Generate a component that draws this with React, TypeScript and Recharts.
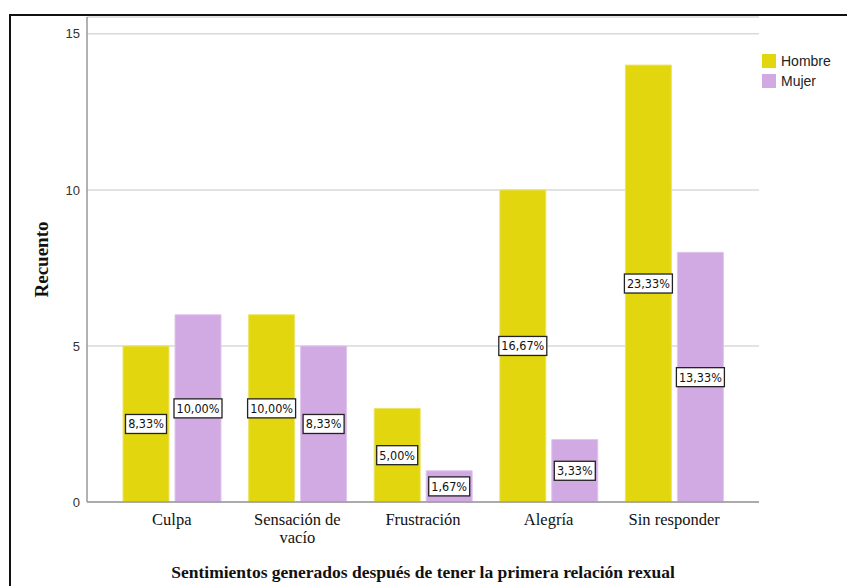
import { BarChart, Bar, XAxis, YAxis, CartesianGrid, Legend, LabelList } from 'recharts';

const categories = ['Culpa', 'Sensación de vacío', 'Frustración', 'Alegría', 'Sin responder'];
const hombre = [5, 6, 3, 10, 14];
const mujer = [6, 5, 1, 2, 8];
const hombrePct = ['8,33%', '10,00%', '5,00%', '16,67%', '23,33%'];
const mujerPct = ['10,00%', '8,33%', '1,67%', '3,33%', '13,33%'];
const yTicks = [0, 5, 10, 15];

const HOMBRE_COLOR = '#e2d60f';
const MUJER_COLOR = '#d1a9e3';
const SERIF = '"Liberation Serif", "Times New Roman", serif';
const SANS = '"Liberation Sans", Arial, sans-serif';

const data = categories.map((c, i) => ({
    name: c,
    hombre: hombre[i],
    mujer: mujer[i],
    hPct: hombrePct[i],
    mPct: mujerPct[i],
}));

// naive word wrap for the long category names
function wrap(text: string, max: number) {
    const words = text.split(' ');
    const lines: string[] = [];
    let cur = '';
    words.forEach((w) => {
        const next = cur ? cur + ' ' + w : w;
        if (next.length > max && cur) {
            lines.push(cur);
            cur = w;
        } else {
            cur = next;
        }
    });
    if (cur) lines.push(cur);
    return lines;
}

const CategoryTick = (props: any) => {
    const { x, y, payload } = props;
    const lines = wrap(payload.value, 14);
    return (
        <text x={x} y={y} textAnchor="middle" fontFamily={SERIF} fontSize={16.5} fill="#111">
            {lines.map((l, i) => (
                <tspan key={i} x={x} dy={i === 0 ? 15 : 18}>{l}</tspan>
            ))}
        </text>
    );
};

const PctLabel = (props: any) => {
    const { x, y, width, height, value } = props;
    const cx = x + width / 2;
    const cy = y + height / 2;
    const w = String(value).length * 7 + 6;
    const h = 19;
    return (
        <g>
            <rect x={cx - w / 2} y={cy - h / 2} width={w} height={h} fill="#fff" stroke="#222" strokeWidth={1.3} />
            <text x={cx} y={cy + 4.5} textAnchor="middle" fontFamily='"DejaVu Sans Condensed", "DejaVu Sans", sans-serif' fontSize={12.5} fill="#111">
                {value}
            </text>
        </g>
    );
};

const LegendBox = () => (
    <div style={{ fontFamily: SANS, fontSize: 14, color: '#222', lineHeight: '20px' }}>
        {[['Hombre', HOMBRE_COLOR], ['Mujer', MUJER_COLOR]].map(([label, color]) => (
            <div key={label} style={{ display: 'flex', alignItems: 'center', height: 20 }}>
                <span style={{ width: 14, height: 14, background: color, display: 'inline-block', marginRight: 5 }} />
                <span>{label}</span>
            </div>
        ))}
    </div>
);

export default function App() {
    return (
        <div style={{ position: 'absolute', left: 0, top: 0, width: 847, height: 586, background: '#fff', overflow: 'hidden' }}>
            <div style={{ position: 'absolute', left: 9, top: 14, width: 840, height: 600, borderLeft: '2px solid #111', borderTop: '2px solid #111' }} />
            <div style={{ position: 'absolute', left: 0, top: 0 }}>
                <BarChart
                    width={847}
                    height={586}
                    data={data}
                    margin={{ top: 17, right: 88, left: 27, bottom: 0 }}
                    barCategoryGap={14}
                    barGap={6}
                >
                    <CartesianGrid vertical={false} stroke="#d9d9d9" strokeWidth={1.5} />
                    <XAxis
                        dataKey="name"
                        height={84}
                        padding={{ left: 22, right: 22 }}
                        stroke="#999"
                        strokeWidth={1.5}
                        tickLine={false}
                        tick={<CategoryTick />}
                        interval={0}
                        label={{
                            value: 'Sentimientos generados después de tener la primera relación rexual',
                            position: 'insideBottom',
                            offset: 8,
                            style: { fontFamily: SERIF, fontSize: 17.5, fontWeight: 'bold', fill: '#111' },
                        }}
                    />
                    <YAxis
                        width={60}
                        domain={[0, 15.54]}
                        ticks={yTicks}
                        stroke="#999"
                        strokeWidth={1.5}
                        tickLine={false}
                        tickSize={0}
                        tickMargin={7}
                        tick={{ fontFamily: SANS, fontSize: 13, fill: '#333' }}
                        label={{
                            content: (p: any) => {
                                const vb = p.viewBox;
                                const cx = vb.x + 14;
                                const cy = vb.y + vb.height / 2;
                                return (
                                    <text x={cx} y={cy} transform={`rotate(-90 ${cx} ${cy})`} textAnchor="middle" dominantBaseline="central" fontFamily={SERIF} fontSize={19} fontWeight="bold" fill="#111">
                                        Recuento
                                    </text>
                                );
                            },
                        }}
                    />
                    <Legend
                        layout="vertical"
                        verticalAlign="middle"
                        align="center"
                        content={<LegendBox />}
                        wrapperStyle={{ position: 'absolute', top: 51, left: 762, width: 80 }}
                    />
                    <Bar dataKey="hombre" name="Hombre" fill={HOMBRE_COLOR} stroke="#ece46a" strokeWidth={1} isAnimationActive={false}>
                        <LabelList dataKey="hPct" content={<PctLabel />} />
                    </Bar>
                    <Bar dataKey="mujer" name="Mujer" fill={MUJER_COLOR} stroke="#e0c6ec" strokeWidth={1} isAnimationActive={false}>
                        <LabelList dataKey="mPct" content={<PctLabel />} />
                    </Bar>
                </BarChart>
            </div>
        </div>
    );
}
